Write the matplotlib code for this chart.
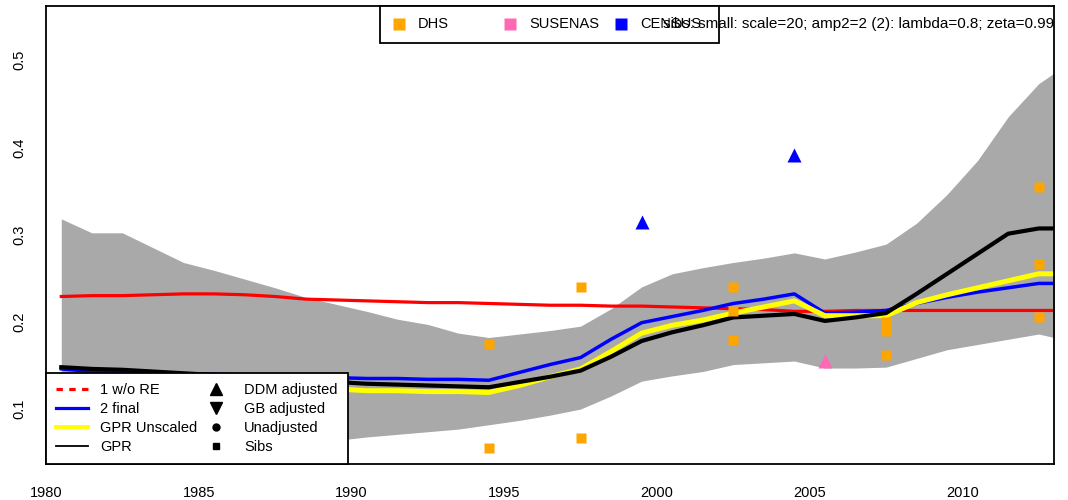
import matplotlib
matplotlib.use("Agg")
import matplotlib.pyplot as plt
from matplotlib.lines import Line2D
from matplotlib.patches import Rectangle
import numpy as np

plt.rcParams['font.family'] = ['Liberation Sans', 'DejaVu Sans']

# estimates per year (mid-year)
years = np.arange(1980.5, 2014.0, 1.0)
upper = [0.318, 0.302, 0.302, 0.285, 0.268, 0.259, 0.249, 0.239, 0.228, 0.220,
         0.212, 0.203, 0.197, 0.187, 0.182, 0.186, 0.190, 0.195, 0.215, 0.240,
         0.255, 0.262, 0.268, 0.273, 0.279, 0.272, 0.280, 0.289, 0.313, 0.346,
         0.385, 0.435, 0.473, 0.497]
lower = [0.045, 0.046, 0.047, 0.048, 0.050, 0.052, 0.055, 0.058, 0.061, 0.064,
         0.068, 0.071, 0.074, 0.077, 0.082, 0.087, 0.093, 0.100, 0.115, 0.132,
         0.138, 0.143, 0.151, 0.153, 0.155, 0.147, 0.147, 0.148, 0.158, 0.168,
         0.174, 0.180, 0.186, 0.178]
gpr = [0.148, 0.146, 0.145, 0.143, 0.141, 0.139, 0.137, 0.135, 0.133, 0.131,
       0.129, 0.128, 0.127, 0.126, 0.125, 0.131, 0.137, 0.144, 0.160, 0.178,
       0.188, 0.196, 0.205, 0.207, 0.209, 0.201, 0.205, 0.210, 0.232, 0.255,
       0.278, 0.301, 0.307, 0.307]
final2 = [0.146, 0.143, 0.142, 0.141, 0.140, 0.140, 0.139, 0.138, 0.137, 0.136,
          0.135, 0.135, 0.134, 0.134, 0.133, 0.142, 0.151, 0.159, 0.180, 0.199,
          0.206, 0.213, 0.221, 0.226, 0.232, 0.210, 0.211, 0.213, 0.221, 0.228,
          0.234, 0.239, 0.244, 0.244]
unscaled = [0.138, 0.136, 0.135, 0.134, 0.133, 0.131, 0.129, 0.127, 0.125, 0.123,
            0.121, 0.121, 0.120, 0.120, 0.119, 0.127, 0.137, 0.146, 0.166, 0.187,
            0.196, 0.202, 0.210, 0.217, 0.224, 0.207, 0.207, 0.207, 0.222, 0.231,
            0.239, 0.247, 0.255, 0.255]
no_re = [0.229, 0.230, 0.230, 0.231, 0.232, 0.232, 0.231, 0.229, 0.226, 0.225,
         0.224, 0.223, 0.222, 0.222, 0.221, 0.220, 0.219, 0.219, 0.218, 0.218,
         0.217, 0.216, 0.215, 0.214, 0.212, 0.212, 0.213, 0.213, 0.213, 0.213,
         0.213, 0.213, 0.213, 0.213]

# data points
dhs_years = [1994.5, 1994.5, 1997.5, 1997.5, 2002.5, 2002.5, 2002.5,
             2007.5, 2007.5, 2007.5, 2012.5, 2012.5, 2012.5]
dhs_vals = [0.175, 0.055, 0.240, 0.067, 0.240, 0.212, 0.179,
            0.200, 0.190, 0.162, 0.354, 0.266, 0.205]
census_years = [1999.5, 2004.5]
census_vals = [0.314, 0.391]
susenas_years = [2005.5]
susenas_vals = [0.155]

source_names = ['DHS', 'SUSENAS', 'CENSUS']
source_colors = ['#FFA500', '#FF69B4', 'blue']

fig = plt.figure(figsize=(10.68, 5.0), dpi=100)
ax = fig.add_axes([46 / 1068, 1 - 464 / 500, 1008 / 1068, 458 / 500])


def ax_x(px):
    return (px - 46) / 1008


def ax_y(py):
    return (464 - py) / 458


ax.fill_between(years, lower, upper, color='#A9A9A9', linewidth=0)
ax.plot(years, no_re, color='red', lw=2.3)
ax.plot(years, final2, color='blue', lw=2.5)
ax.plot(years, unscaled, color='yellow', lw=3.6)
ax.plot(years, gpr, color='black', lw=3.0)

ax.plot(dhs_years, dhs_vals, 's', color=source_colors[0], ms=6.5, mec='none')
ax.plot(census_years, census_vals, '^', color=source_colors[2], ms=10, mec='none')
ax.plot(susenas_years, susenas_vals, '^', color=source_colors[1], ms=10, mec='none')

ax.set_xlim(1980, 2013)
ax.set_ylim(0.037, 0.562)
ax.set_xticks([1980, 1985, 1990, 1995, 2000, 2005, 2010])
ax.set_yticks([0.1, 0.2, 0.3, 0.4, 0.5])
ax.set_yticklabels(['0.1', '0.2', '0.3', '0.4', '0.5'], rotation=90, va='center')
ax.tick_params(axis='both', length=0, labelsize=10.5)
ax.tick_params(axis='x', pad=16)
ax.tick_params(axis='y', pad=14)
for s in ax.spines.values():
    s.set_linewidth(1.3)

# bottom-left legend
handles = [
    Line2D([], [], color='red', lw=2.3, ls=(0, (2, 2))),
    Line2D([], [], color='blue', lw=2.3),
    Line2D([], [], color='yellow', lw=2.8),
    Line2D([], [], color='black', lw=1.3),
    Line2D([], [], color='black', marker='^', ls='none', ms=8),
    Line2D([], [], color='black', marker='v', ls='none', ms=8),
    Line2D([], [], color='black', marker='o', ls='none', ms=5),
    Line2D([], [], color='black', marker='s', ls='none', ms=5),
]
labels = ['1 w/o RE', '2 final', 'GPR Unscaled', 'GPR',
          'DDM adjusted', 'GB adjusted', 'Unadjusted', 'Sibs']
leg1 = ax.legend(handles, labels, loc='lower left', ncol=2, fontsize=10.5,
                 frameon=True, fancybox=False, framealpha=1, borderaxespad=0,
                 handlelength=2.2, handletextpad=0.8, columnspacing=0.2,
                 labelspacing=0.33, borderpad=0.7)
leg1.get_frame().set_edgecolor('black')
leg1.get_frame().set_linewidth(1.3)

# top legend, drawn by hand to keep equal column widths
ax.add_patch(Rectangle((ax_x(380), ax_y(43)), ax_x(719) - ax_x(380), ax_y(6) - ax_y(43),
                       transform=ax.transAxes, facecolor='white', edgecolor='black',
                       lw=1.3, zorder=5, clip_on=False))
for i, (name, col) in enumerate(zip(source_names, source_colors)):
    mx = 399 + 111 * i
    ax.plot([ax_x(mx)], [ax_y(24)], 's', color=col, ms=8, mec='none',
            transform=ax.transAxes, zorder=6, clip_on=False)
    ax.text(ax_x(mx + 19), ax_y(24), name, transform=ax.transAxes, fontsize=10.5,
            va='center', ha='left', zorder=6)

ax.text(2000.2, 0.541, 'sibs: small: scale=20; amp2=2 (2): lambda=0.8; zeta=0.99',
        fontsize=11, va='center', ha='left', clip_on=True, zorder=7)

fig.savefig('out.png', dpi=100)
